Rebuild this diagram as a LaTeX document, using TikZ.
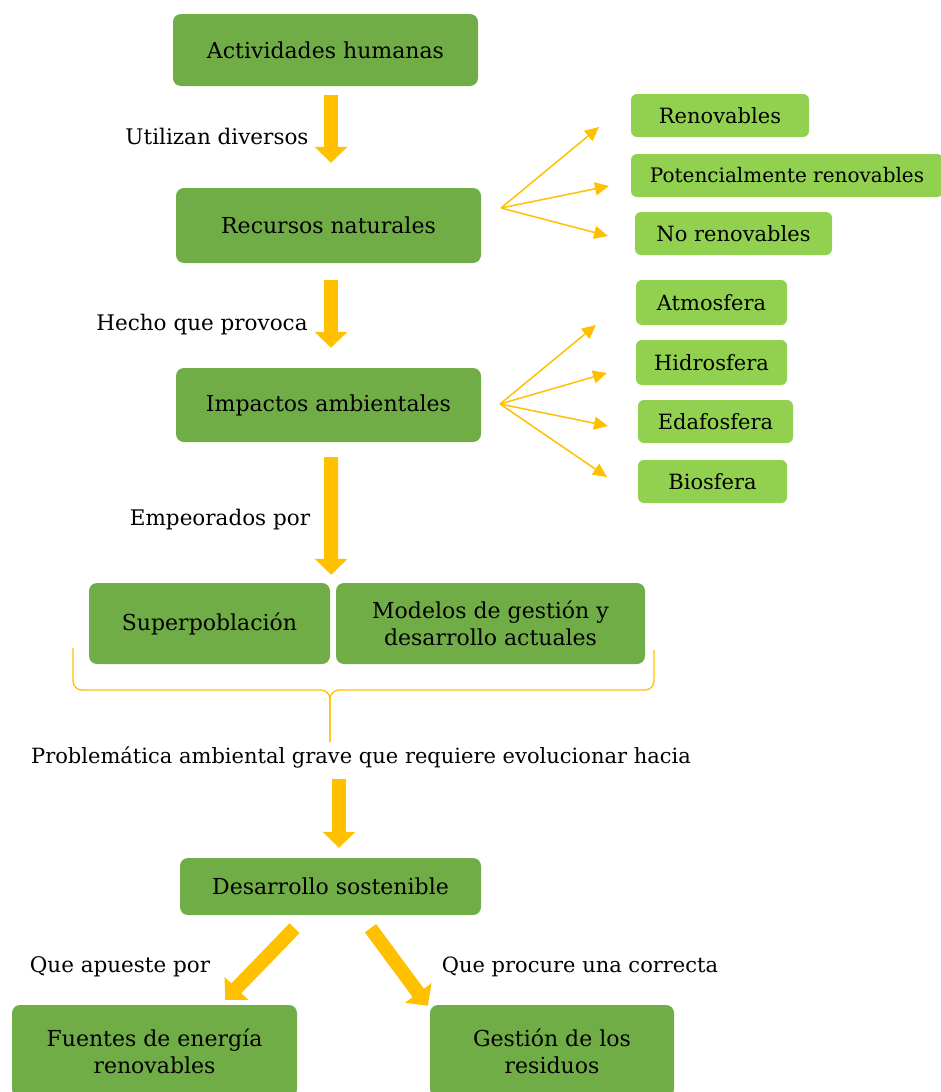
\documentclass[tikz,border=0pt]{standalone}
\usepackage{fontspec}
\setmainfont{DejaVu Serif}
\usetikzlibrary{arrows.meta,calc}
\definecolor{dgreen}{HTML}{70AD47}
\definecolor{lgreen}{HTML}{92D050}
\definecolor{amber}{HTML}{FFC000}
\begin{document}
\begin{tikzpicture}[x=1pt,y=-1pt,
 box/.style={font=\fontsize{22}{27}\selectfont, fill=dgreen, rounded corners=8pt, inner sep=0pt, align=center},
 sbox/.style={font=\fontsize{21}{25}\selectfont, fill=lgreen, rounded corners=6pt, inner sep=0pt},
 lbl/.style={font=\fontsize{21.5}{25}\selectfont, inner sep=0pt},
 bigarrow/.style={draw=amber, line width=14pt, -{Triangle[width=32pt,length=16pt]}},
 fan/.style={draw=amber, line width=1.5pt, -{Triangle[width=13pt,length=14pt]}},
 bracestyle/.style={draw=amber, line width=1.3pt, rounded corners=9pt}]
\useasboundingbox (0,0) rectangle (941,1092);
% main boxes
\node[box, minimum width=305pt, minimum height=72pt] (act) at (325.5,50) {Actividades humanas};
\node[box, minimum width=305pt, minimum height=75pt] (rec) at (328.5,225.5) {Recursos naturales};
\node[box, minimum width=305pt, minimum height=74pt] (imp) at (328.5,405) {Impactos ambientales};
\node[box, minimum width=241pt, minimum height=81pt] (sup) at (209.5,623.5) {Superpoblación};
\node[box, minimum width=309pt, minimum height=81pt] (mod) at (490.5,623.5) {Modelos de gestión y\\desarrollo actuales};
\node[box, minimum width=301pt, minimum height=57pt] (des) at (330.5,886.5) {Desarrollo sostenible};
\node[box, minimum width=285pt, minimum height=92pt] (fue) at (154.5,1051) {Fuentes de energía\\renovables};
\node[box, minimum width=244pt, minimum height=92pt] (ges) at (552,1051) {Gestión de los\\residuos};
% small boxes
\node[sbox, minimum width=178pt, minimum height=43pt] (ren) at (720,115.5) {Renovables};
\node[sbox, minimum width=312pt, minimum height=43pt, font=\fontsize{20}{24}\selectfont] (pot) at (787,175.5) {Potencialmente renovables};
\node[sbox, minimum width=197pt, minimum height=43pt] (nor) at (733.5,233.5) {No renovables};
\node[sbox, minimum width=151pt, minimum height=45pt] (atm) at (711.5,302.5) {Atmosfera};
\node[sbox, minimum width=151pt, minimum height=45pt] (hid) at (711.5,362.5) {Hidrosfera};
\node[sbox, minimum width=155pt, minimum height=43pt] (eda) at (715.5,421.5) {Edafosfera};
\node[sbox, minimum width=149pt, minimum height=43pt] (bio) at (712.5,481.5) {Biosfera};
% labels
\node[lbl] (l1) at (217,136) {Utilizan diversos};
\node[lbl] (l2) at (202,325) {Hecho que provoca};
\node[lbl] (l3) at (220,520) {Empeorados por};
\node[lbl, font=\fontsize{21}{25}\selectfont] (l4) at (361,757) {Problemática ambiental grave que requiere evolucionar hacia};
\node[lbl] (l5) at (120,967) {Que apueste por};
\node[lbl, font=\fontsize{21}{25}\selectfont] (l6) at (580,967) {Que procure una correcta};
% big arrows
\draw[bigarrow] ($(act.south)+(5.5,9)$) -- ($(rec.north)+(2.5,-25)$);
\draw[bigarrow] ($(rec.south)+(2.5,17)$) -- ($(imp.north)+(2.5,-20)$);
\draw[bigarrow] ($(imp.south)+(2.5,15)$) -- ($(sup.north east)+(1,-8)$);
\draw[bigarrow] ($(des.north)+(8.5,-79)$) -- ($(des.north)+(8.5,-10)$);
\draw[bigarrow] ($(des.south)+(-36,13)$) -- ($(fue.north east)+(-72,-5)$);
\draw[bigarrow] ($(des.south)+(40,13)$) -- ($(ges.north west)+(-2,1)$);
% fans
\coordinate (f1) at (501,208);
\coordinate (f2) at (500,404);
\coordinate (r1) at (599,127);
\coordinate (r2) at (609,186);
\coordinate (r3) at (608,236);
\coordinate (i1) at (596,325);
\coordinate (i2) at (607,373);
\coordinate (i3) at (608,426);
\coordinate (i4) at (607,477);
\foreach \t in {r1,r2,r3} \draw[fan] (f1) -- (\t);
\foreach \t in {i1,i2,i3,i4} \draw[fan] (f2) -- (\t);
% brace
\coordinate (bl) at (73,648);
\coordinate (br) at (654,650);
\coordinate (bm) at (330,690);
\coordinate (bt) at (330,742);
\draw[bracestyle] (bl) -- (bl |- bm) -- (bm) -- (bt);
\draw[bracestyle] (br) -- (br |- bm) -- (bm) -- (bt);
\end{tikzpicture}
\end{document}
